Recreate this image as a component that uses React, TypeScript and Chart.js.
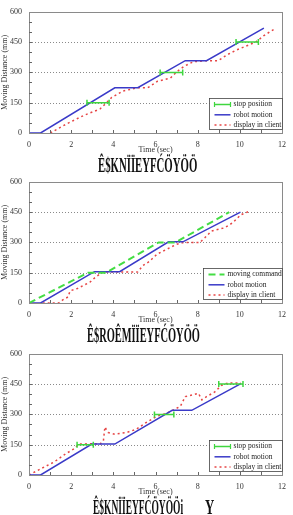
import React, { useEffect, useRef } from "react";
import { Chart, registerables } from "chart.js";
Chart.register(...registerables);

const SERIF = "'Liberation Serif', 'DejaVu Serif', serif";

// ---- axes ----
const xTickValues = [0, 2, 4, 6, 8, 10, 12];
const yTickValues = [0, 150, 300, 450, 600];
const gridLevels = [150, 300, 450];
const stopLevels = [150, 300, 450];

// ---- chart (a) ----
const aRobotT = [0, 0.55, 4.07, 5.16, 7.41, 8.42, 11.14];
const aRobotD = [0, 0, 224, 224, 358, 358, 519];
const aStopStart = [2.75, 6.22, 9.82];
const aStopEnd = [3.8, 7.29, 10.88];
const aClientT = [1.01, 1.82, 2.6, 3.37, 3.69, 3.92, 4.46, 5.16, 5.63, 6.09, 6.71, 7.03, 7.34, 7.8, 8.43, 8.97, 9.36, 9.82, 10.75, 11.14, 11.7];
const aClientD = [0, 47, 87, 119, 151, 176, 208, 224, 224, 256, 272, 305, 329, 353, 358, 358, 385, 410, 450, 482, 519];

// ---- chart (b) ----
const bCmdT = [0, 2.8, 3.65, 6.15, 6.95, 9.5];
const bCmdD = [0, 150, 150, 300, 300, 450];
const bRobotT = [0, 0.55, 3.1, 4.3, 6.62, 7.3, 10.03];
const bRobotD = [0, 0, 155, 155, 303, 303, 450];
const bClientT = [0.65, 1.4, 1.6, 1.85, 1.95, 2.3, 2.6, 2.9, 3.15, 3.5, 5.15, 5.4, 5.7, 6.08, 6.55, 7.01, 7.33, 8.1, 8.34, 8.65, 9.27, 9.66, 10.05, 10.52];
const bClientD = [0, 0, 15, 30, 60, 72, 88, 104, 128, 153, 153, 185, 205, 242, 267, 291, 299, 299, 323, 356, 372, 397, 437, 457];

// ---- chart (c) ----
const cRobotT = [0, 0.55, 2.98, 4.07, 6.79, 7.72, 10.05];
const cRobotD = [0, 0, 153, 153, 320, 320, 452];
const cStopStart = [2.28, 5.95, 9.0];
const cStopEnd = [3.05, 6.87, 10.15];
const cClientT = [0, 0.58, 1.2, 1.74, 2.13, 2.36, 3.0, 3.37, 3.53, 3.6, 3.67, 3.76, 4.07, 4.62, 5.08, 5.55, 6.05, 6.56, 6.87, 7.18, 7.41, 7.73, 8.04, 8.2, 8.42, 8.81, 9.12, 9.44, 10.05];
const cClientD = [0, 32, 65, 105, 129, 153, 155, 153, 170, 238, 225, 210, 202, 210, 226, 259, 290, 307, 323, 340, 388, 396, 404, 372, 388, 411, 443, 456, 456];

// ---- texts ----
const xTitle = "Time (sec)";
const yTitle = "Moving Distance (mm)";
const legendA = ["stop position", "robot motion", "display in client"];
const legendB = ["moving command", "robot motion", "display in client"];
const legendC = ["stop position", "robot motion", "display in client"];
const captionA = "Ê$KNÏÏEYFĆÖYÖÖ";
const captionB = "Ê$ROÊMÏÏEYFĆÖYÖÖ";
const captionC = "Ê$KNÏÏEYFĆÖYÖÖi";
const captionCTail = "Y";

// ---- styles ----
const GREEN = "#3fd63f";
const CMD_GREEN = "#44dd44";
const BLUE = "#3a3ac8";
const RED = "#e64545";
const H = 160;
const PLOT_BOTTOM = 133;
const PLOT_TOP = 9.5;

type Style = { color: string; width: number; dash: number[]; caps?: boolean };
const STOP: Style = { color: GREEN, width: 1.5, dash: [], caps: true };
const ROBOT: Style = { color: BLUE, width: 1.5, dash: [] };
const CLIENT: Style = { color: RED, width: 1.5, dash: [2, 3] };
const CMD: Style = { color: CMD_GREEN, width: 2, dash: [7, 4] };

const pts = (t: number[], d: number[]) => t.map((x, i) => ({ x, y: d[i] }));
const stopPts = (s: number[], e: number[], lv: number[]) => {
  const out: any[] = [];
  s.forEach((x, i) => {
    out.push({ x, y: lv[i] }, { x: e[i], y: lv[i] });
    if (i < s.length - 1) out.push({ x: (e[i] + s[i + 1]) / 2, y: null });
  });
  return out;
};

const ds = (label: string, data: any[], st: Style) => ({
  label,
  data,
  borderColor: st.color,
  backgroundColor: st.color,
  borderWidth: st.width,
  borderDash: st.dash,
  fill: false,
  tension: 0,
  spanGaps: false,
  pointStyle: "line",
  pointRotation: 90,
  pointRadius: st.caps ? 3 : 0,
  pointBorderWidth: 1.5,
  pointBorderColor: st.color,
  pointHoverRadius: 0,
});

const framePlugin = {
  id: "frame",
  beforeDatasetsDraw(chart: any) {
    const { ctx, chartArea: a, scales } = chart;
    ctx.save();
    ctx.strokeStyle = "#8a8a8a";
    ctx.lineWidth = 1;
    ctx.setLineDash([1, 2]);
    gridLevels.forEach((v) => {
      const y = Math.round(scales.y.getPixelForValue(v)) + 0.5;
      ctx.beginPath();
      ctx.moveTo(a.left, y);
      ctx.lineTo(a.right, y);
      ctx.stroke();
    });
    ctx.restore();
  },
  afterDatasetsDraw(chart: any, _args: any, opts: any) {
    const { ctx, chartArea: a, scales } = chart;
    ctx.save();
    ctx.setLineDash([]);
    ctx.strokeStyle = "#8a8a8a";
    ctx.lineWidth = 1;
    ctx.strokeRect(Math.round(a.left) + 0.5, Math.round(a.top) + 0.5, Math.round(a.right - a.left), Math.round(a.bottom - a.top));
    ctx.strokeStyle = "#666";
    for (let v = 1; v < 12; v++) {
      const x = Math.round(scales.x.getPixelForValue(v)) + 0.5;
      ctx.beginPath();
      ctx.moveTo(x, a.bottom);
      ctx.lineTo(x, a.bottom - 3);
      ctx.stroke();
    }
    for (let v = 50; v < 600; v += 50) {
      const y = Math.round(scales.y.getPixelForValue(v)) + 0.5;
      ctx.beginPath();
      ctx.moveTo(a.left, y);
      ctx.lineTo(a.left + 3, y);
      ctx.stroke();
    }
    // legend
    const items = opts.items as { text: string; style: Style }[];
    const w = opts.width as number;
    const h = 31;
    const bx = Math.round(a.right - w) + 0.5;
    const by = Math.round(a.bottom - 4 - h) + 0.5;
    ctx.fillStyle = "#fff";
    ctx.fillRect(bx, by, w, h);
    ctx.strokeStyle = "#444";
    ctx.lineWidth = 0.8;
    ctx.strokeRect(bx, by, w, h);
    ctx.font = `7.5px ${SERIF}`;
    ctx.textBaseline = "middle";
    ctx.textAlign = "left";
    items.forEach((it, i) => {
      const y = by + 6 + i * 10.3;
      const st = it.style;
      ctx.strokeStyle = st.color;
      ctx.lineWidth = st.width;
      ctx.setLineDash(st.dash.length ? st.dash : []);
      ctx.beginPath();
      ctx.moveTo(bx + 5, y);
      ctx.lineTo(bx + 21, y);
      ctx.stroke();
      ctx.setLineDash([]);
      if (st.caps) {
        ctx.lineWidth = 1.2;
        ctx.beginPath();
        ctx.moveTo(bx + 5, y - 2.5);
        ctx.lineTo(bx + 5, y + 2.5);
        ctx.moveTo(bx + 21, y - 2.5);
        ctx.lineTo(bx + 21, y + 2.5);
        ctx.stroke();
      }
      ctx.fillStyle = "#222";
      ctx.fillText(it.text, bx + 24, y);
    });
    ctx.restore();
  },
};

type BlockCfg = {
  top: number;
  datasets: any[];
  legend: { text: string; style: Style }[];
  legendWidth: number;
  caption: string;
  capLeft: number;
  capWidth: number;
  tail?: string;
};

const blocks: BlockCfg[] = [
  {
    top: 0,
    datasets: [
      ds(legendA[0], stopPts(aStopStart, aStopEnd, stopLevels), STOP),
      ds(legendA[1], pts(aRobotT, aRobotD), ROBOT),
      ds(legendA[2], pts(aClientT, aClientD), CLIENT),
    ],
    legend: [
      { text: legendA[0], style: STOP },
      { text: legendA[1], style: ROBOT },
      { text: legendA[2], style: CLIENT },
    ],
    legendWidth: 73,
    caption: captionA,
    capLeft: 98,
    capWidth: 99,
  },
  {
    top: 170,
    datasets: [
      ds(legendB[0], pts(bCmdT, bCmdD), CMD),
      ds(legendB[1], pts(bRobotT, bRobotD), ROBOT),
      ds(legendB[2], pts(bClientT, bClientD), CLIENT),
    ],
    legend: [
      { text: legendB[0], style: CMD },
      { text: legendB[1], style: ROBOT },
      { text: legendB[2], style: CLIENT },
    ],
    legendWidth: 79,
    caption: captionB,
    capLeft: 87,
    capWidth: 113,
  },
  {
    top: 342,
    datasets: [
      ds(legendC[0], stopPts(cStopStart, cStopEnd, stopLevels), STOP),
      ds(legendC[1], pts(cRobotT, cRobotD), ROBOT),
      ds(legendC[2], pts(cClientT, cClientD), CLIENT),
    ],
    legend: [
      { text: legendC[0], style: STOP },
      { text: legendC[1], style: ROBOT },
      { text: legendC[2], style: CLIENT },
    ],
    legendWidth: 73,
    caption: captionC,
    capLeft: 93,
    capWidth: 90,
    tail: captionCTail,
  },
];

function Caption({ text, left, width, top }: { text: string; left: number; width: number; top: number }) {
  const ref = useRef<HTMLSpanElement>(null);
  useEffect(() => {
    const el = ref.current;
    if (!el) return;
    el.style.transform = "none";
    const w = el.offsetWidth;
    if (w > 0) el.style.transform = `scaleX(${width / w})`;
  }, [text, width]);
  return (
    <span
      ref={ref}
      style={{
        position: "absolute",
        left,
        top,
        whiteSpace: "nowrap",
        transformOrigin: "0 0",
        font: `bold 20px ${SERIF}`,
        lineHeight: "20px",
        color: "#111",
      }}
    >
      {text}
    </span>
  );
}

function ChartBlock({ cfg }: { cfg: BlockCfg }) {
  const canvasRef = useRef<HTMLCanvasElement>(null);
  useEffect(() => {
    const canvas = canvasRef.current;
    if (!canvas) return;
    const tickFont = { family: SERIF, size: 8 };
    const chart = new Chart(canvas, {
      type: "line",
      data: { datasets: cfg.datasets },
      plugins: [framePlugin],
      options: {
        animation: false,
        responsive: false,
        maintainAspectRatio: false,
        events: [],
        layout: { padding: { top: PLOT_TOP, right: 6, left: 0, bottom: 0 } },
        plugins: {
          legend: { display: false },
          tooltip: { enabled: false },
          title: { display: false },
          frame: { items: cfg.legend, width: cfg.legendWidth },
        } as any,
        scales: {
          x: {
            type: "linear",
            min: 0,
            max: 12,
            afterBuildTicks: (s: any) => {
              s.ticks = xTickValues.map((v) => ({ value: v }));
            },
            afterFit: (s: any) => {
              s.height = H - PLOT_BOTTOM;
            },
            grid: { display: false, drawTicks: false },
            border: { display: false },
            ticks: { font: tickFont, color: "#333", padding: 7, maxRotation: 0, autoSkip: false },
            title: { display: true, text: xTitle, font: tickFont, color: "#333", padding: { top: 0, bottom: 5 } },
          },
          y: {
            type: "linear",
            min: 0,
            max: 600,
            afterBuildTicks: (s: any) => {
              s.ticks = yTickValues.map((v) => ({ value: v }));
            },
            afterFit: (s: any) => {
              s.width = 29;
            },
            grid: { display: false, drawTicks: false },
            border: { display: false },
            ticks: { font: tickFont, color: "#333", padding: 7, autoSkip: false },
            title: { display: true, text: yTitle, font: tickFont, color: "#333", padding: { top: 0, bottom: 0 } },
          },
        },
      } as any,
    });
    return () => chart.destroy();
  }, [cfg]);
  return (
    <div style={{ position: "absolute", left: 0, top: cfg.top, width: 293, height: 172 }}>
      <canvas ref={canvasRef} width={293} height={H} style={{ position: "absolute", left: 0, top: 0, width: 293, height: H }} />
      <Caption text={cfg.caption} left={cfg.capLeft} width={cfg.capWidth} top={154.5} />
      {cfg.tail ? <Caption text={cfg.tail} left={205} width={9} top={154.5} /> : null}
    </div>
  );
}

export default function App() {
  useEffect(() => {
    document.body.style.margin = "0";
    document.body.style.background = "#fff";
  }, []);
  return (
    <div style={{ position: "relative", width: 293, height: 515, overflow: "hidden", background: "#fff" }}>
      {blocks.map((b, i) => (
        <ChartBlock key={i} cfg={b} />
      ))}
    </div>
  );
}
